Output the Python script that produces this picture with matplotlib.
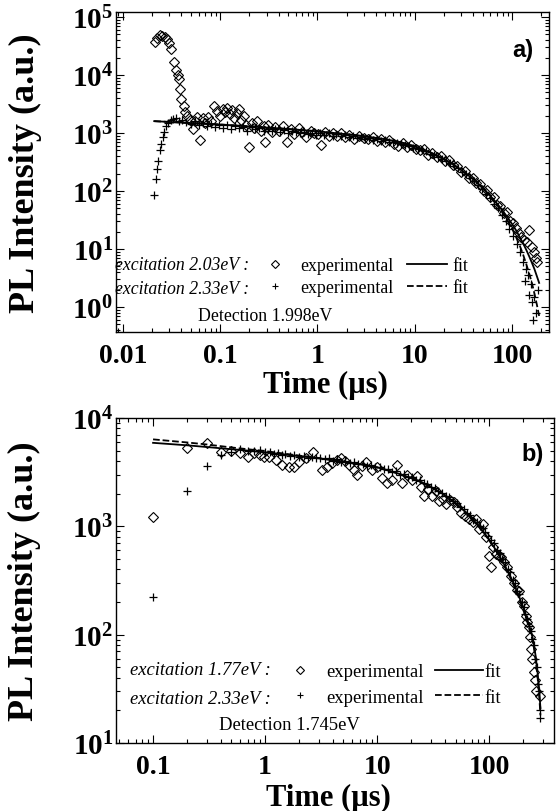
import matplotlib
matplotlib.use('Agg')
import matplotlib.pyplot as plt
from matplotlib.ticker import LogLocator, FuncFormatter, NullFormatter
from matplotlib.lines import Line2D
import numpy as np

plt.rcParams['font.family'] = ['Liberation Serif', 'DejaVu Serif']
plt.rcParams['mathtext.fontset'] = 'custom'
plt.rcParams['mathtext.rm'] = 'Liberation Serif'
plt.rcParams['mathtext.bf'] = 'Liberation Serif:bold'
plt.rcParams['mathtext.it'] = 'Liberation Serif:italic'
plt.rcParams['mathtext.default'] = 'bf'

# ---------------- panel a) data ----------------
tA = [0.0212, 0.0225, 0.024, 0.0255, 0.027, 0.0285, 0.030, 0.0315, 0.0335, 0.035,
      0.0365, 0.0377, 0.0385, 0.040, 0.042, 0.044, 0.046, 0.049, 0.052, 0.055,
      0.058, 0.062, 0.066, 0.070, 0.075, 0.080, 0.087, 0.093, 0.100, 0.106,
      0.112, 0.118, 0.125, 0.132, 0.140, 0.148, 0.156, 0.165, 0.175, 0.185,
      0.20, 0.21, 0.225, 0.24, 0.26, 0.28, 0.29, 0.31, 0.34, 0.37,
      0.40, 0.44, 0.49, 0.53, 0.58, 0.64, 0.70, 0.77, 0.85, 0.93,
      1.02, 1.09, 1.2, 1.32, 1.45, 1.6, 1.75, 1.92, 2.1, 2.4,
      2.7, 3.0, 3.3, 3.7, 4.1, 4.5, 5.0, 5.5, 6.1, 6.8,
      7.5, 8.3, 9.2, 10.2, 11.3, 12.5, 13.8, 15.2, 16.8, 18.5,
      20.4, 22.5, 24.8, 27.3, 30, 33, 36, 39.5, 43, 47,
      51, 55.5, 60, 65, 70.5, 76, 82, 88.5, 95, 102,
      109, 117, 125, 133, 142, 151, 160, 170, 175, 180]
IA = [37000, 44000, 49000, 47000, 46000, 42000, 36000, 28000, 17000, 12000,
      10000, 8500, 5700, 3800, 2900, 2300, 2000, 1700, 1150, 1600,
      1900, 750, 1800, 1500, 1900, 1600, 2900, 2400, 2000, 2600,
      2300, 2700, 2100, 2500, 1800, 2200, 2600, 1700, 2000, 1400,
      570, 1500, 1200, 1600, 1100, 1300, 700, 1400, 1050, 1250,
      1100, 1300, 700, 1150, 950, 1200, 1050, 850, 1100, 1000,
      950, 620, 1050, 900, 1000, 880, 980, 850, 920, 780,
      900, 820, 780, 860, 720, 800, 700, 760, 650, 600,
      680, 580, 620, 540, 500, 520, 420, 450, 380, 400,
      330, 340, 280, 270, 215, 220, 170, 165, 135, 130,
      100, 105, 78, 80, 58, 55, 42, 44, 30, 28,
      23, 19, 16, 14, 13, 21, 11, 9, 7, 6]

tB = [0.0210, 0.0218, 0.0225, 0.0232, 0.0240, 0.0248, 0.0256, 0.0265, 0.0275, 0.0290,
      0.031, 0.033, 0.035, 0.038, 0.041, 0.045, 0.050, 0.055, 0.060, 0.066,
      0.073, 0.080, 0.088, 0.097, 0.107, 0.118, 0.130, 0.143, 0.157, 0.173,
      0.19, 0.21, 0.23, 0.25, 0.28, 0.31, 0.34, 0.37, 0.41, 0.45,
      0.50, 0.55, 0.60, 0.66, 0.73, 0.80, 0.88, 0.97, 1.07, 1.18,
      1.3, 1.43, 1.57, 1.73, 1.9, 2.1, 2.3, 2.55, 2.8, 3.1,
      3.4, 3.75, 4.1, 4.5, 5.0, 5.5, 6.0, 6.6, 7.3, 8.0,
      8.8, 9.7, 10.7, 11.8, 13.0, 14.3, 15.7, 17.3, 19.0, 21.0,
      23, 25.3, 27.8, 30.5, 33.5, 37, 40.5, 44.5, 49, 54,
      59, 65, 71, 78, 86, 94, 103, 112, 121, 130,
      136, 140, 145, 150, 155, 160, 165, 170, 175, 185]
IB = [85, 160, 240, 330, 500, 650, 850, 1050, 1300, 1500,
      1700, 1750, 1800, 1600, 1700, 1550, 1450, 1600, 1350, 1500,
      1300, 1450, 1250, 1400, 1200, 1350, 1150, 1300, 1200, 1250,
      1100, 1250, 1150, 1200, 1100, 1180, 1080, 1150, 1050, 1120,
      1000, 1080, 1020, 980, 1050, 960, 1010, 940, 1000, 930,
      980, 900, 950, 880, 920, 860, 890, 830, 860, 800,
      820, 770, 790, 740, 750, 700, 710, 660, 650, 610,
      600, 560, 540, 500, 480, 440, 420, 380, 360, 325,
      300, 270, 245, 215, 195, 165, 150, 125, 108, 88,
      75, 60, 50, 38, 30, 22, 17, 12, 9, 6,
      2.8, 4.5, 3.5, 1.6, 2.5, 1.2, 0.6, 1.5, 0.8, 2.0]

fit_a_t = [0.021, 0.03, 0.05, 0.1, 0.2, 0.5, 1, 2, 3, 5, 7, 10, 15, 20, 25, 30, 40, 50,
           60, 70, 80, 90, 100, 110, 120, 130, 140, 150, 160, 170, 180, 190]
fit_a1 = [1600, 1550, 1480, 1400, 1300, 1170, 1070, 950, 880, 780, 700, 590, 450, 355, 285, 230,
          160, 112, 82, 61, 46, 35, 27, 21, 16, 12.5, 9.7, 7.5, 5.8, 4.5, 3.4, 2.6]
fit_a2 = [1600, 1550, 1480, 1400, 1300, 1170, 1070, 950, 880, 780, 700, 590, 450, 355, 285, 230,
          160, 112, 80, 58, 42, 31, 22.5, 16, 11.5, 8, 5.5, 3.8, 2.6, 1.7, 1.1, 0.7]

# ---------------- panel b) data ----------------
tE = [0.1, 0.2, 0.3, 0.4, 0.5, 0.6, 0.7, 0.8, 0.9, 0.98,
      1.09, 1.25, 1.42, 1.64, 1.81, 2.0, 2.3, 2.7, 3.2, 3.6,
      3.96, 4.4, 4.8, 5.2, 5.6, 6.2, 6.6, 7.3, 8.0, 9.0,
      10, 11, 12.3, 13.6, 15, 16.7, 18.5, 20.5, 22.7, 24.7,
      26.3, 28.5, 31, 33.5, 35.8, 38.5, 41, 44.5, 48.6, 52,
      56, 61, 66, 71, 76, 81, 87, 94, 100, 104,
      109, 115, 122, 128, 135, 144, 155, 167, 176, 185,
      197, 205, 212, 218, 225, 232, 237, 243, 250, 255,
      260, 286]
IE = [1230, 5300, 5900, 4900, 5000, 4800, 4400, 4750, 4600, 4400,
      4400, 4100, 3700, 3550, 3500, 3950, 4300, 4900, 3300, 3550,
      3860, 4100, 4300, 4000, 3700, 3300, 3000, 3600, 3900, 3300,
      3500, 2800, 2500, 2700, 3700, 2500, 3000, 2700, 2900, 2300,
      1900, 2200, 1900, 2100, 1700, 1800, 1600, 1750, 1660, 1500,
      1340, 1250, 1160, 1100, 1160, 950, 1040, 790, 530, 420,
      640, 550, 530, 520, 470, 420, 350, 300, 260, 254,
      200, 185, 150, 130, 118, 95, 74, 60, 45, 38,
      30, 27]

tF = [0.1, 0.2, 0.3, 0.4, 0.5, 0.6, 0.7, 0.8, 0.9, 1.0,
      1.1, 1.2, 1.3, 1.4, 1.5, 1.65, 1.8, 2.0, 2.2, 2.4,
      2.6, 2.85, 3.1, 3.4, 3.7, 4.0, 4.4, 4.8, 5.2, 5.7,
      6.2, 6.8, 7.4, 8.1, 8.8, 9.6, 10.5, 11.5, 12.5, 13.6,
      14.8, 16, 17.4, 19, 20.5, 22, 24, 26, 28, 30,
      32.5, 35, 38, 41, 44, 47.5, 51, 55, 59, 63,
      67.5, 72, 77, 82, 87, 92, 98, 104, 110, 117,
      124, 131, 138, 146, 154, 162, 170, 178, 186, 194,
      202, 210, 218, 226, 234, 242, 250, 258, 266, 272,
      278, 283, 286]
IF = [223, 2140, 3600, 4600, 4900, 5150, 5000, 4950, 5050, 4850,
      4900, 4700, 4800, 4600, 4700, 4500, 4600, 4400, 4500, 4300,
      4400, 4250, 4300, 4150, 4250, 4050, 4150, 3950, 4000, 3850,
      3900, 3750, 3800, 3600, 3700, 3500, 3500, 3350, 3400, 3200,
      3250, 3000, 3050, 2850, 2850, 2700, 2650, 2500, 2450, 2300,
      2250, 2100, 2050, 1900, 1850, 1720, 1650, 1500, 1450, 1330,
      1280, 1150, 1100, 1000, 960, 880, 820, 740, 700, 610,
      570, 500, 470, 400, 380, 320, 300, 255, 235, 200,
      180, 155, 140, 120, 108, 92, 80, 60, 50, 35,
      30, 20, 17]

fit_b_t = [0.1, 0.2, 0.3, 0.5, 0.7, 1, 1.5, 2, 3, 5, 7, 10, 15, 20, 25, 30, 40, 50, 60, 70,
           80, 90, 100, 120, 140, 160, 180, 200, 220, 240, 250, 260, 270, 280, 286]
fit_b1 = [5900, 5600, 5400, 5150, 5000, 4820, 4600, 4450, 4250, 3950, 3750, 3500, 3100, 2800,
          2550, 2320, 1950, 1640, 1390, 1180, 1010, 870, 750, 560, 420, 320, 240, 180, 135,
          100, 82, 62, 44, 29, 21]
fit_b2 = [6350, 5950, 5700, 5350, 5150, 4950, 4680, 4500, 4280, 3970, 3760, 3500, 3100, 2790,
          2540, 2310, 1940, 1630, 1380, 1170, 1000, 860, 740, 550, 410, 310, 232, 172, 128,
          94, 76, 57, 40, 26, 18]

xticks_a = [0.01, 0.1, 1, 10, 100]
xlabels_a = ['0.01', '0.1', '1', '10', '100']
xticks_b = [0.1, 1, 10, 100]
xlabels_b = ['0.1', '1', '10', '100']

# ---------------- figure ----------------
W, H = 556, 812
fig = plt.figure(figsize=(W / 100, H / 100), dpi=100)

def px_axes(l, r, t, b):
    return fig.add_axes([l / W, 1 - b / H, (r - l) / W, (b - t) / H])

axa = px_axes(116, 549, 13, 333)
axb = px_axes(116, 554, 419, 744)

def yfmt(v, pos):
    e = int(round(np.log10(v)))
    return r'$\mathbf{10^{%d}}$' % e

def style(ax, xt, xl, xlim, ylim, lab_y, lab_x):
    ax.set_xscale('log')
    ax.set_yscale('log')
    ax.set_xlim(*xlim)
    ax.set_ylim(*ylim)
    ax.set_xticks(xt, xl, fontsize=20, fontweight='bold')
    ax.xaxis.set_minor_locator(LogLocator(base=10, subs=np.arange(2, 10), numticks=30))
    ax.xaxis.set_minor_formatter(NullFormatter())
    ax.yaxis.set_major_locator(LogLocator(base=10, numticks=30))
    ax.yaxis.set_major_formatter(FuncFormatter(yfmt))
    ax.yaxis.set_minor_locator(LogLocator(base=10, subs=np.arange(2, 10), numticks=30))
    ax.yaxis.set_minor_formatter(NullFormatter())
    ax.tick_params(which='both', direction='in', top=True, right=True, width=0.8)
    ax.tick_params(which='major', length=6)
    ax.tick_params(which='minor', length=3)
    ax.tick_params(axis='x', which='major', pad=8)
    ax.tick_params(axis='y', which='major', labelsize=21, pad=2)
    for s in ax.spines.values():
        s.set_linewidth(1.0)
    ax.set_xlabel('Time (µs)', fontsize=22, fontweight='bold', va='center')
    ax.xaxis.set_label_coords(lab_x, lab_y)
    ax.set_ylabel('PL Intensity (a.u.)', fontsize=26, fontweight='bold', va='center')

style(axa, xticks_a, xlabels_a, (0.0085, 240), (0.37, 1.22e5), -0.1625, 0.483)
axa.yaxis.set_label_coords(-0.21, 0.5)
style(axb, xticks_b, xlabels_b, (0.0467, 378), (10, 1e4), -0.168, 0.486)
axb.yaxis.set_label_coords(-0.208, 0.5)

mk_d = dict(marker='D', ls='none', mfc='none', mec='k', ms=5, mew=0.8)
mk_p = dict(marker='+', ls='none', color='k', ms=5.5, mew=0.9)

for ax, (td, Id, tp, Ip, ft, f1, f2) in [
        (axa, (tA, IA, tB, IB, fit_a_t, fit_a1, fit_a2)),
        (axb, (tE, IE, tF, IF, fit_b_t, fit_b1, fit_b2))]:
    ax.plot(td, Id, **mk_d)
    ax.plot(tp, Ip, **mk_p)
    ax.plot(ft, f1, color='k', lw=1.3)
    ax.plot(ft, f2, color='k', lw=1.3, ls='--')

def legend(ax, exc1, exc2, det, x_exc, y1, y2, x_det, y_det, x_leg, fs, hl, htp, cs, ls):
    handles = [Line2D([], [], marker='D', ls='none', mfc='none', mec='k', ms=3.8, mew=0.8),
               Line2D([], [], marker='+', ls='none', color='k', ms=4.5, mew=0.8),
               Line2D([], [], color='k', lw=1.3),
               Line2D([], [], color='k', lw=1.3, ls='--')]
    labels = ['experimental', 'experimental', 'fit', 'fit']
    ax.legend(handles, labels, ncol=2, loc='center left',
              bbox_to_anchor=(x_leg / W, 1 - (y1 + y2) / 2 / H), bbox_transform=fig.transFigure,
              frameon=False, borderpad=0, borderaxespad=0, prop={'family': 'Liberation Serif', 'size': fs},
              handlelength=hl, handletextpad=htp, columnspacing=cs, labelspacing=ls)
    fig.text(x_exc / W, 1 - y1 / H, exc1, style='italic', fontsize=fs, va='center', ha='left')
    fig.text(x_exc / W, 1 - y2 / H, exc2, style='italic', fontsize=fs, va='center', ha='left')
    fig.text(x_det / W, 1 - y_det / H, det, fontsize=fs, va='center', ha='center')

legend(axa, 'excitation 2.03eV :', 'excitation 2.33eV :', 'Detection 1.998eV',
       115, 265, 290, 265, 317, 255, 12.8, 2.25, 0.28, 0.79, 0.3)
legend(axb, 'excitation 1.77eV :', 'excitation 2.33eV :', 'Detection 1.745eV',
       130, 671, 700, 289, 726, 276, 13.4, 2.63, 0.05, 0.6, 0.45)

fig.text(523 / W, 1 - 50 / H, 'a)', family='Liberation Sans', fontweight='bold', fontsize=17,
         ha='center', va='center')
fig.text(533 / W, 1 - 455 / H, 'b)', family='Liberation Sans', fontweight='bold', fontsize=17,
         ha='center', va='center')

fig.savefig('out.png', dpi=100)
